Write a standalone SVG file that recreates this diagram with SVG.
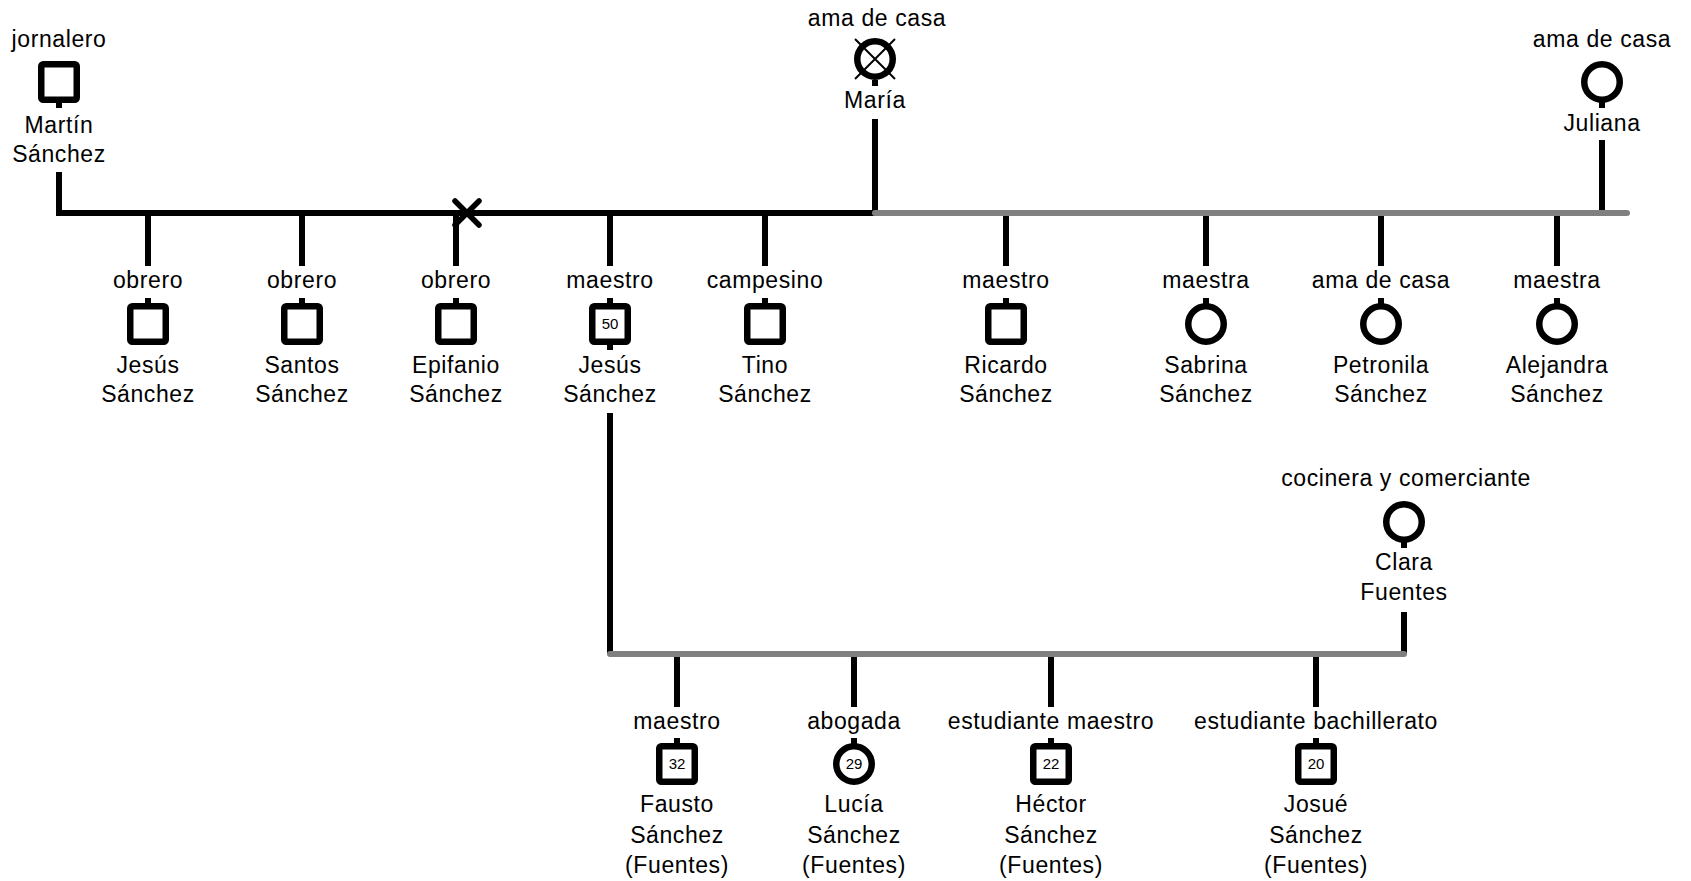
<svg xmlns="http://www.w3.org/2000/svg" width="1691" height="881" viewBox="0 0 1691 881">
<style>
text{font-family:"Liberation Sans",Arial,sans-serif;font-size:23px;letter-spacing:0.6px;fill:#000;text-anchor:middle}
text.age{font-size:15px;letter-spacing:0}
.sq{fill:#fff;stroke:#000;stroke-width:6.5}
.ci{fill:#fff;stroke:#000;stroke-width:6.5}
.stub{stroke:#000;stroke-width:6;fill:none}
.bl{stroke:#000;stroke-width:6;fill:none}
.gr{stroke:#808080;stroke-width:6;fill:none;stroke-linecap:round}
.xm{stroke:#000;stroke-width:5.5;stroke-linecap:round}
.thin{stroke:#000;stroke-width:2}
</style>
<rect width="1691" height="881" fill="#fff"/>
<g id="connectors">
<path class="bl" d="M59,172 V213 H875"/>
<path class="bl" d="M875,119 V213"/>
<path class="bl" d="M1602,140 V213"/>
<path class="bl" d="M148,213 V266 M302,213 V266 M456,213 V266 M610,213 V266 M765,213 V266 M1006,213 V266 M1206,213 V266 M1381,213 V266 M1557,213 V266"/>
<path class="gr" d="M875,213 H1627"/>
<path class="xm" d="M455,201 L479,225 M479,201 L455,225"/>
<path class="bl" d="M610,413 V654"/>
<path class="bl" d="M1404,612 V654"/>
<path class="bl" d="M677,654 V707 M854,654 V707 M1051,654 V707 M1316,654 V707"/>
<path class="gr" d="M610,654 H1404"/>
</g>
<g id="n-martin">
<text x="59" y="47">jornalero</text>
<rect class="sq" x="41.25" y="64.25" width="35.5" height="35.5" rx="2"/>
<path class="stub" d="M59,102 V108"/>
<text x="59" y="133">Martín</text>
<text x="59" y="162">Sánchez</text>
</g>
<g id="n-maria">
<text x="877" y="26">ama de casa</text>
<circle class="ci" cx="875" cy="59" r="17.75"/>
<path class="thin" d="M855,39 L895,79 M895,39 L855,79"/>
<path class="stub" d="M875,80 V86"/>
<text x="875" y="108">María</text>
</g>
<g id="n-juliana">
<text x="1602" y="47">ama de casa</text>
<circle class="ci" cx="1602" cy="82" r="17.75"/>
<path class="stub" d="M1602,102 V108"/>
<text x="1602" y="131">Juliana</text>
</g>
<g id="n-jesus1">
<text x="148" y="288">obrero</text>
<path class="stub" d="M148,298 V305"/>
<rect class="sq" x="130.25" y="306.25" width="35.5" height="35.5" rx="2"/>
<text x="148" y="373">Jesús</text>
<text x="148" y="402">Sánchez</text>
</g>
<g id="n-santos">
<text x="302" y="288">obrero</text>
<path class="stub" d="M302,298 V305"/>
<rect class="sq" x="284.25" y="306.25" width="35.5" height="35.5" rx="2"/>
<text x="302" y="373">Santos</text>
<text x="302" y="402">Sánchez</text>
</g>
<g id="n-epifanio">
<text x="456" y="288">obrero</text>
<path class="stub" d="M456,298 V305"/>
<rect class="sq" x="438.25" y="306.25" width="35.5" height="35.5" rx="2"/>
<text x="456" y="373">Epifanio</text>
<text x="456" y="402">Sánchez</text>
</g>
<g id="n-jesus2">
<text x="610" y="288">maestro</text>
<path class="stub" d="M610,298 V305 M610,343 V350"/>
<rect class="sq" x="592.25" y="306.25" width="35.5" height="35.5" rx="2"/>
<text class="age" x="610" y="329">50</text>
<text x="610" y="373">Jesús</text>
<text x="610" y="402">Sánchez</text>
</g>
<g id="n-tino">
<text x="765" y="288">campesino</text>
<path class="stub" d="M765,298 V305"/>
<rect class="sq" x="747.25" y="306.25" width="35.5" height="35.5" rx="2"/>
<text x="765" y="373">Tino</text>
<text x="765" y="402">Sánchez</text>
</g>
<g id="n-ricardo">
<text x="1006" y="288">maestro</text>
<path class="stub" d="M1006,298 V305"/>
<rect class="sq" x="988.25" y="306.25" width="35.5" height="35.5" rx="2"/>
<text x="1006" y="373">Ricardo</text>
<text x="1006" y="402">Sánchez</text>
</g>
<g id="n-sabrina">
<text x="1206" y="288">maestra</text>
<path class="stub" d="M1206,298 V305"/>
<circle class="ci" cx="1206" cy="324" r="17.75"/>
<text x="1206" y="373">Sabrina</text>
<text x="1206" y="402">Sánchez</text>
</g>
<g id="n-petronila">
<text x="1381" y="288">ama de casa</text>
<path class="stub" d="M1381,298 V305"/>
<circle class="ci" cx="1381" cy="324" r="17.75"/>
<text x="1381" y="373">Petronila</text>
<text x="1381" y="402">Sánchez</text>
</g>
<g id="n-alejandra">
<text x="1557" y="288">maestra</text>
<path class="stub" d="M1557,298 V305"/>
<circle class="ci" cx="1557" cy="324" r="17.75"/>
<text x="1557" y="373">Alejandra</text>
<text x="1557" y="402">Sánchez</text>
</g>
<g id="n-clara">
<text x="1406" y="486">cocinera y comerciante</text>
<circle class="ci" cx="1404" cy="522" r="17.75"/>
<path class="stub" d="M1404,542 V548"/>
<text x="1404" y="570">Clara</text>
<text x="1404" y="600">Fuentes</text>
</g>
<g id="n-fausto">
<text x="677" y="729">maestro</text>
<path class="stub" d="M677,738 V745"/>
<rect class="sq" x="659.25" y="746.25" width="35.5" height="35.5" rx="2"/>
<text class="age" x="677" y="769">32</text>
<text x="677" y="812">Fausto</text>
<text x="677" y="843">Sánchez</text>
<text x="677" y="873">(Fuentes)</text>
</g>
<g id="n-lucia">
<text x="854" y="729">abogada</text>
<path class="stub" d="M854,738 V745"/>
<circle class="ci" cx="854" cy="764" r="17.75"/>
<text class="age" x="854" y="769">29</text>
<text x="854" y="812">Lucía</text>
<text x="854" y="843">Sánchez</text>
<text x="854" y="873">(Fuentes)</text>
</g>
<g id="n-hector">
<text x="1051" y="729">estudiante maestro</text>
<path class="stub" d="M1051,738 V745"/>
<rect class="sq" x="1033.25" y="746.25" width="35.5" height="35.5" rx="2"/>
<text class="age" x="1051" y="769">22</text>
<text x="1051" y="812">Héctor</text>
<text x="1051" y="843">Sánchez</text>
<text x="1051" y="873">(Fuentes)</text>
</g>
<g id="n-josue">
<text x="1316" y="729">estudiante bachillerato</text>
<path class="stub" d="M1316,738 V745"/>
<rect class="sq" x="1298.25" y="746.25" width="35.5" height="35.5" rx="2"/>
<text class="age" x="1316" y="769">20</text>
<text x="1316" y="812">Josué</text>
<text x="1316" y="843">Sánchez</text>
<text x="1316" y="873">(Fuentes)</text>
</g>
</svg>
